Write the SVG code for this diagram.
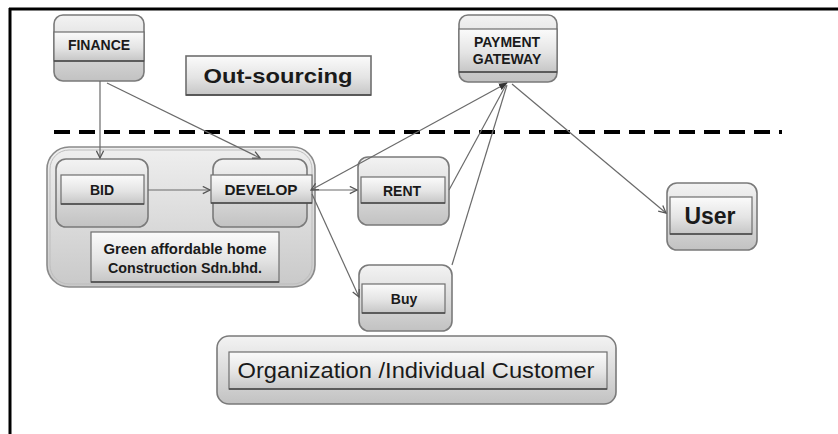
<svg xmlns="http://www.w3.org/2000/svg" width="838" height="434" viewBox="0 0 838 434">
<defs>
<linearGradient id="gNode" x1="0" y1="0" x2="0" y2="1">
<stop offset="0" stop-color="#f3f3f3"/>
<stop offset="0.5" stop-color="#dcdcdc"/>
<stop offset="1" stop-color="#c2c2c2"/>
</linearGradient>
<linearGradient id="gBar" x1="0" y1="0" x2="0" y2="1">
<stop offset="0" stop-color="#fbfbfb"/>
<stop offset="0.55" stop-color="#e4e4e4"/>
<stop offset="1" stop-color="#c6c6c6"/>
</linearGradient>
<linearGradient id="gGroup" x1="0" y1="0" x2="0" y2="1">
<stop offset="0" stop-color="#efefef"/>
<stop offset="1" stop-color="#c9c9c9"/>
</linearGradient>
<marker id="arr" viewBox="0 0 10 10" refX="9" refY="5" markerWidth="9" markerHeight="9" markerUnits="userSpaceOnUse" orient="auto-start-reverse">
<path d="M1,1 L9,5 L1,9" fill="none" stroke="#555" stroke-width="1.4"/>
</marker>
<marker id="arrF" viewBox="0 0 10 10" refX="9" refY="5" markerWidth="9" markerHeight="9" markerUnits="userSpaceOnUse" orient="auto-start-reverse">
<path d="M0,1 L10,5 L0,9 Z" fill="#333"/>
</marker>
</defs>
<style>
.node{fill:url(#gNode);stroke:#7a7a7a;stroke-width:1.6}
.bar{fill:url(#gBar);stroke:#6e6e6e;stroke-width:1.2}
.shade{stroke:#4a4a4a;stroke-width:1.6}
.lbl{font-family:"Liberation Sans",Arial,sans-serif;font-weight:bold;font-size:14px;fill:#1a1a1a;text-anchor:middle}
.con{fill:none;stroke:#6a6a6a;stroke-width:1.2}
</style>
<rect width="838" height="434" fill="#ffffff"/>
<g id="frame">
<line x1="9" y1="9" x2="838" y2="9" stroke="#000" stroke-width="3"/>
<line x1="10" y1="8" x2="10" y2="434" stroke="#000" stroke-width="3"/>
</g>
<line id="divider" x1="54" y1="132" x2="782" y2="132" stroke="#000" stroke-width="4" stroke-dasharray="16 9"/>

<g id="company">
<rect x="47" y="147" width="268" height="140" rx="22" fill="url(#gGroup)" stroke="#8a8a8a" stroke-width="1.6"/>
<rect x="50" y="150" width="262" height="134" rx="19" fill="none" stroke="#bdbdbd" stroke-width="1"/>
<rect x="91" y="232" width="188" height="50" class="bar"/>
<line x1="91" y1="282" x2="279" y2="282" class="shade"/>
<text x="185" y="254" class="lbl" textLength="163" lengthAdjust="spacingAndGlyphs">Green affordable home</text>
<text x="185" y="273" class="lbl" textLength="154" lengthAdjust="spacingAndGlyphs">Construction Sdn.bhd.</text>
</g>

<g id="finance">
<rect x="54" y="15" width="90" height="66" rx="9" class="node"/>
<rect x="54" y="32" width="90" height="29" class="bar"/>
<line x1="54" y1="61" x2="144" y2="61" class="shade"/>
<text x="99" y="50" class="lbl">FINANCE</text>
</g>

<g id="outsourcing">
<rect x="186" y="56" width="185" height="39" class="bar" style="stroke-width:1.6"/>
<line x1="186" y1="95" x2="371" y2="95" class="shade"/>
<text x="278" y="83" class="lbl" style="font-size:20px" textLength="149" lengthAdjust="spacingAndGlyphs">Out-sourcing</text>
</g>

<g id="payment">
<rect x="459" y="15" width="98" height="67" rx="9" class="node"/>
<rect x="459" y="29" width="98" height="43" class="bar"/>
<line x1="459" y1="72" x2="557" y2="72" class="shade"/>
<text x="507" y="47" class="lbl">PAYMENT</text>
<text x="507" y="64" class="lbl">GATEWAY</text>
</g>

<g id="bid">
<rect x="56" y="159" width="92" height="68" rx="10" class="node"/>
<rect x="61" y="175" width="83" height="29" class="bar"/>
<line x1="61" y1="204" x2="144" y2="204" class="shade"/>
<text x="102" y="195" class="lbl">BID</text>
</g>

<g id="develop">
<rect x="213" y="159" width="94" height="68" rx="10" class="node"/>
<rect x="211" y="175" width="101" height="28" class="bar"/>
<line x1="211" y1="203" x2="312" y2="203" class="shade"/>
<text x="261" y="195" class="lbl" textLength="73" lengthAdjust="spacingAndGlyphs">DEVELOP</text>
</g>

<g id="rent">
<rect x="358" y="157" width="91" height="68" rx="10" class="node"/>
<rect x="361" y="177" width="84" height="26" class="bar"/>
<line x1="361" y1="203" x2="445" y2="203" class="shade"/>
<text x="402" y="196" class="lbl">RENT</text>
</g>

<g id="buy">
<rect x="359" y="265" width="93" height="66" rx="10" class="node"/>
<rect x="362" y="284" width="83" height="29" class="bar"/>
<line x1="362" y1="313" x2="445" y2="313" class="shade"/>
<text x="404" y="304" class="lbl">Buy</text>
</g>

<g id="user">
<rect x="667" y="183" width="90" height="67" rx="10" class="node"/>
<rect x="670" y="197" width="82" height="37" class="bar"/>
<line x1="670" y1="234" x2="752" y2="234" class="shade"/>
<text x="710" y="224" class="lbl" style="font-size:23px">User</text>
</g>

<g id="customer">
<rect x="217" y="336" width="399" height="68" rx="12" class="node"/>
<rect x="229" y="352" width="378" height="37" class="bar"/>
<line x1="229" y1="389" x2="607" y2="389" class="shade"/>
<text x="416" y="378" class="lbl" style="font-weight:normal;font-size:22px" textLength="357" lengthAdjust="spacingAndGlyphs">Organization /Individual Customer</text>
</g>

<g id="connectors">
<path class="con" d="M100,81 L100,158" marker-end="url(#arr)"/>
<path class="con" d="M107,83 L260,158" marker-end="url(#arr)"/>
<path class="con" d="M148,190 L210,190" marker-end="url(#arr)"/>
<path class="con" d="M312,190 L357,190" marker-end="url(#arr)"/>
<path class="con" d="M312,194 L359,297" marker-end="url(#arr)"/>
<path class="con" d="M311,190 L507,83" marker-start="url(#arr)" marker-end="url(#arrF)"/>
<path class="con" d="M449,190 L506,85"/>
<path class="con" d="M452,265 L507,85"/>
<path class="con" d="M512,84 L666,213" marker-end="url(#arr)"/>
</g>
</svg>
